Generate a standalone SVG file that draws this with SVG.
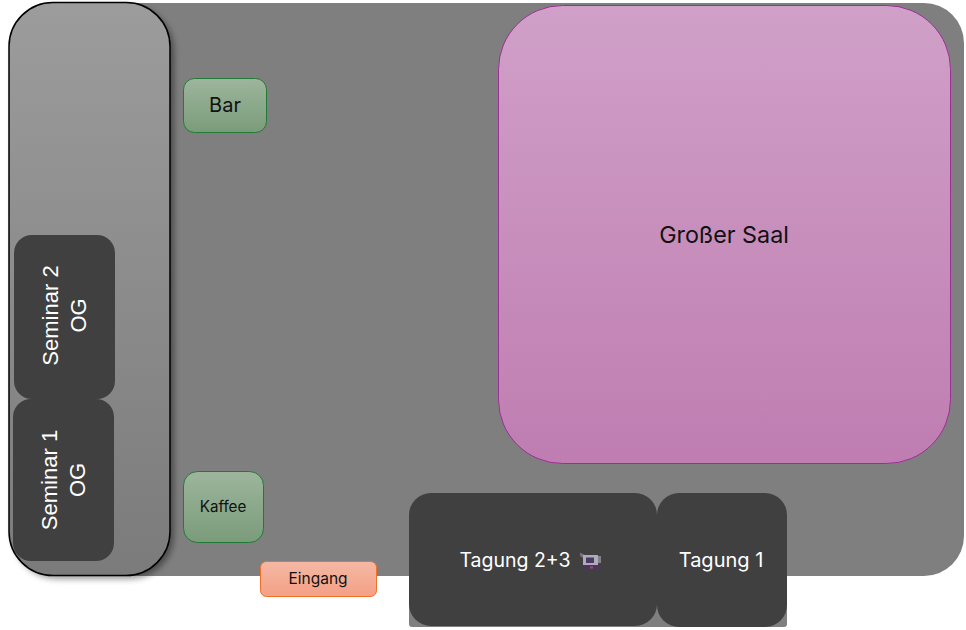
<svg xmlns="http://www.w3.org/2000/svg" width="966" height="630" viewBox="0 0 966 630">
<defs>
<linearGradient id="gl" x1="0" y1="0" x2="0" y2="1"><stop offset="0" stop-color="#9c9c9c"/><stop offset="1" stop-color="#7b7b7b"/></linearGradient>
<linearGradient id="gp" x1="0" y1="0" x2="0" y2="1"><stop offset="0" stop-color="#d0a0c8"/><stop offset="1" stop-color="#bf7db1"/></linearGradient>
<linearGradient id="gg" x1="0" y1="0" x2="0" y2="1"><stop offset="0" stop-color="#9db59d"/><stop offset="1" stop-color="#7a9c7a"/></linearGradient>
<linearGradient id="go" x1="0" y1="0" x2="0" y2="1"><stop offset="0" stop-color="#f5b8a5"/><stop offset="1" stop-color="#f4a085"/></linearGradient>
<filter id="sh" x="-10%" y="-5%" width="125%" height="110%"><feGaussianBlur stdDeviation="3"/></filter>
</defs>
<style>
text{font-family:"Inter","Noto Sans","Liberation Sans",sans-serif;text-anchor:middle}
.dark{fill:#404040}
.w{fill:#fff}
.s{font-family:"Liberation Sans",Arial,sans-serif;font-size:22px;fill:#fff}
.green{fill:url(#gg);stroke:#217a35;stroke-width:1}
</style>
<g id="floor">
<rect x="51" y="3" width="913" height="573" rx="40" fill="#7f7f7f"/>
<rect x="409" y="570" width="378" height="57" rx="3" fill="#7f7f7f"/>
</g>
<g id="galerie">
<rect x="13" y="6" width="161" height="573" rx="44" fill="#000" opacity=".4" filter="url(#sh)"/>
<rect x="9" y="2.500" width="161" height="573" rx="44" fill="url(#gl)" stroke="#000" stroke-width="1.500"/>
</g>
<g id="saal">
<rect x="498.500" y="5.500" width="452" height="458" rx="64" fill="url(#gp)" stroke="#9c2f95" stroke-width="1"/>
<text x="724" y="243" font-size="23.300" fill="#111">Großer Saal</text>
</g>
<g id="bar">
<rect x="183.500" y="78.500" width="83" height="54" rx="11" class="green"/>
<text x="225" y="112" font-size="20" fill="#111">Bar</text>
</g>
<g id="kaffee">
<rect x="183.500" y="471.500" width="80" height="71" rx="14" class="green"/>
<text x="223" y="512" font-size="15.200" fill="#111">Kaffee</text>
</g>
<g id="eingang">
<rect x="260.500" y="561.500" width="116" height="35" rx="6" fill="url(#go)" stroke="#f0702a" stroke-width="1"/>
<text x="318" y="584" font-size="15.500" fill="#111">Eingang</text>
</g>
<g id="seminar2">
<rect x="14" y="235" width="101" height="164" rx="18" class="dark"/>
<text class="s" transform="translate(58 315.500) rotate(-90)">Seminar 2</text>
<text class="s" transform="translate(86 315.500) rotate(-90)">OG</text>
</g>
<g id="seminar1">
<rect x="13" y="399" width="101" height="162" rx="18" class="dark"/>
<text class="s" transform="translate(57 480) rotate(-90)">Seminar 1</text>
<text class="s" transform="translate(85 480) rotate(-90)">OG</text>
</g>
<g id="tagung23">
<rect x="409" y="493" width="248" height="133" rx="22" class="dark"/>
<text x="515" y="567" font-size="19.500" class="w">Tagung 2+3</text>
<g>
<path d="M580 552.500l5 2.500-1 3.500-4-2.500z" fill="#77727e"/>
<rect x="583" y="555" width="15" height="10" fill="#b0acb6"/>
<rect x="598" y="556" width="3" height="7" fill="#84808a"/>
<rect x="586" y="557.500" width="8" height="5.500" fill="#4b3a68"/>
<rect x="583" y="565" width="17" height="4.500" fill="#4a3560"/>
<rect x="590" y="566.500" width="3" height="2" fill="#a04a70"/>
</g>
</g>
<g id="tagung1">
<rect x="657" y="493" width="130" height="134" rx="22" class="dark"/>
<text x="721" y="567" font-size="20" class="w">Tagung 1</text>
</g>
<g id="connectors"/>
</svg>
